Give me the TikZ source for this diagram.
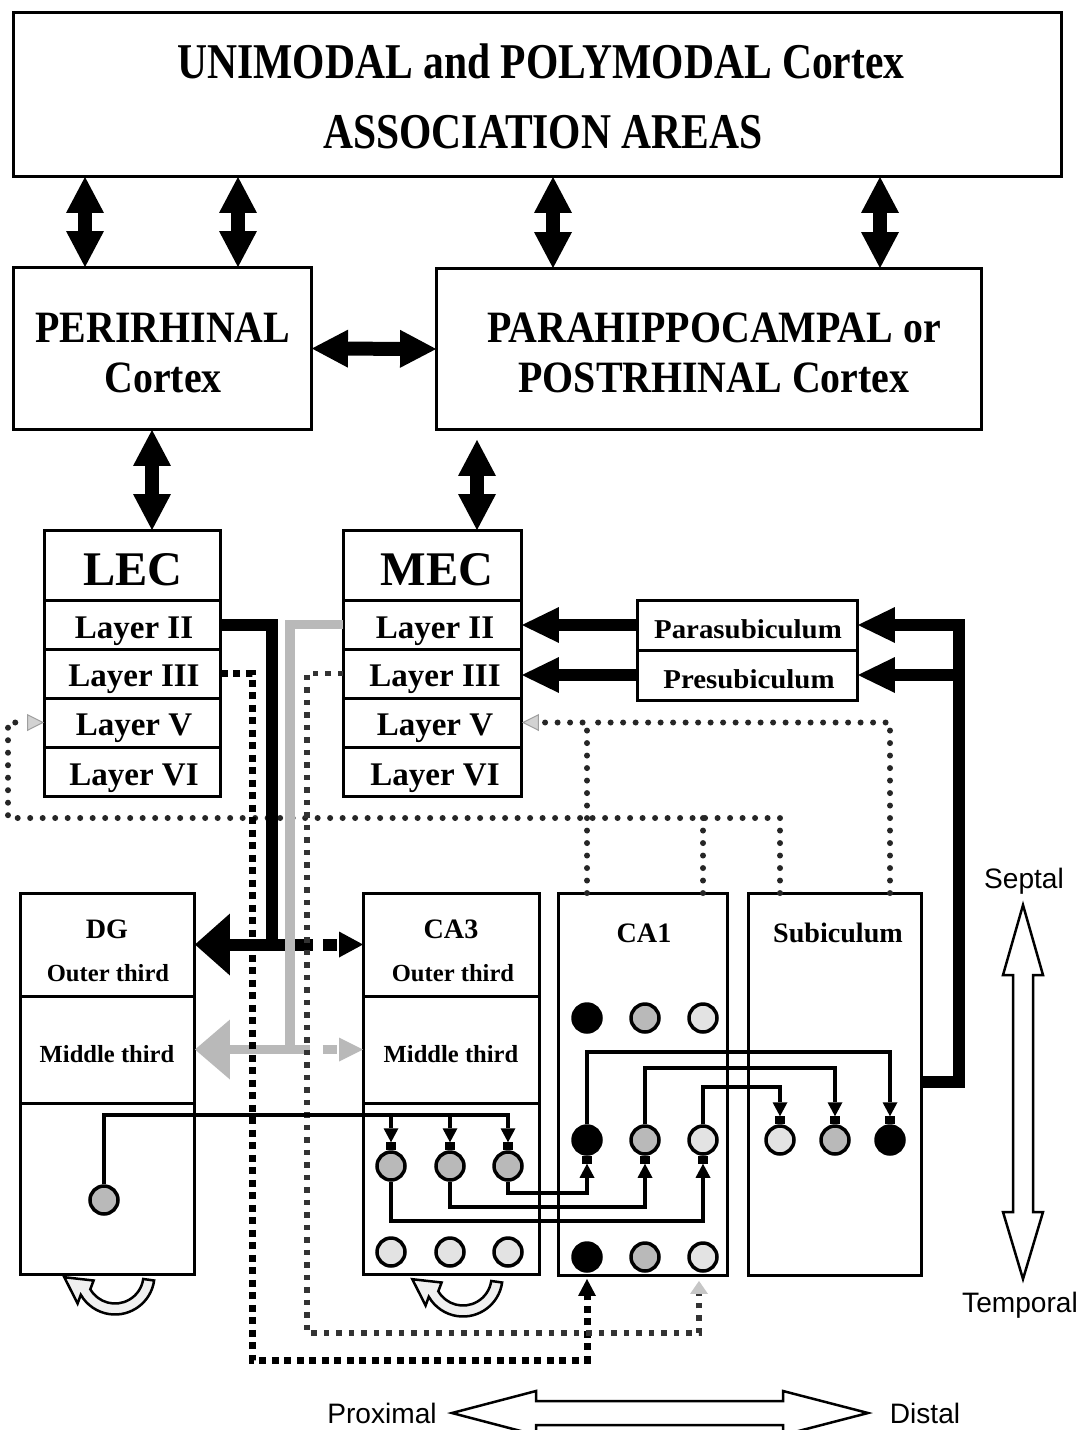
\documentclass[tikz,border=0pt]{standalone}
\usepackage{fontspec}
\setmainfont{Liberation Serif}
\newfontfamily\sansf{Liberation Sans}
\newfontfamily\titlef[FakeStretch=0.83]{Liberation Serif}
\newfontfamily\ctxf[FakeStretch=0.89]{Liberation Serif}
\newfontfamily\subf[FakeStretch=1.06]{Liberation Serif}
\usetikzlibrary{arrows.meta,calc}
\newcommand\fTitle{\titlef\bfseries\fontsize{28.5}{30}\selectfont}
\newcommand\fCtx{\ctxf\bfseries\fontsize{25.5}{28}\selectfont}
\newcommand\fEC{\bfseries\fontsize{27.5}{30}\selectfont}
\newcommand\fLayer{\bfseries\fontsize{18.8}{22}\selectfont}
\newcommand\fSubic{\subf\bfseries\fontsize{15.5}{18}\selectfont}
\newcommand\fHip{\bfseries\fontsize{16}{18}\selectfont}
\newcommand\fThird{\bfseries\fontsize{14}{16}\selectfont}
\newcommand\fSans{\sansf\fontsize{16}{18}\selectfont}
\begin{document}
\begin{tikzpicture}[x=0.02cm,y=-0.02cm,
  box/.style={draw, line width=0.06cm, inner sep=0pt, outer sep=0pt},
  txt/.style={anchor=base, inner sep=0pt},
  cell/.style={circle, draw, line width=0.07cm, minimum size=0.56cm, inner sep=0pt},
  dark/.style={cell, fill=black},
  mid/.style={cell, fill=gray!55},
  light/.style={cell, fill=gray!22},
  syn/.style={rectangle, fill=black, minimum width=0.2cm, minimum height=0.16cm, inner sep=0pt, outer sep=0pt},
  axon/.style={line width=0.09cm},
  axtip/.style={-{Triangle[length=0.28cm,width=0.3cm,line width=0pt]}},
  bidir/.style={line width=0.28cm, {Triangle[length=0.72cm,width=0.76cm,line width=0pt]}-{Triangle[length=0.72cm,width=0.76cm,line width=0pt]}},
  heavy/.style={line width=0.24cm},
  heavytip/.style={-{Triangle[length=0.74cm,width=0.72cm,line width=0pt]}},
  bigtip/.style={-{Triangle[length=0.7cm,width=1.24cm,line width=0pt]}},
  greyp/.style={line width=0.19cm, gray!55},
  dotr/.style={line width=0.12cm, dash pattern=on 0pt off 0.25cm, line cap=round, black!85},
  gtip/.style={-{Triangle[length=0.34cm,width=0.34cm,fill=gray!35,color=gray!75,line width=0.02cm]}},
  dashsq/.style={line width=0.14cm, dash pattern=on 0.14cm off 0.11cm},
  dotsq/.style={line width=0.11cm, dash pattern=on 0.11cm off 0.14cm, black!80},
  openarrow/.style={draw, line width=0.05cm, fill=white, line join=miter},
  recur/.style={draw, line width=0.05cm, fill=gray!12, line join=miter},
]
\fill[white] (0,0) rectangle (1081,1430);
\useasboundingbox (0,0) rectangle (1081,1430);

% ---------- boxes ----------
\node[box, minimum width=20.98cm, minimum height=3.3cm] (top) at (537.5,94.5) {};
\node[box, minimum width=5.98cm, minimum height=3.26cm] (peri) at (162.5,348.5) {};
\node[box, minimum width=10.92cm, minimum height=3.24cm] (para) at (709,349) {};

\node[box, minimum width=3.54cm, minimum height=1.4cm] (lec) at (132.5,565) {};
\node[box, minimum width=3.54cm, minimum height=0.98cm] (lec2) at (132.5,624.5) {};
\node[box, minimum width=3.54cm, minimum height=0.98cm] (lec3) at (132.5,673.5) {};
\node[box, minimum width=3.54cm, minimum height=0.98cm] (lec5) at (132.5,722.5) {};
\node[box, minimum width=3.54cm, minimum height=0.98cm] (lec6) at (132.5,771.5) {};

\node[box, minimum width=3.58cm, minimum height=1.4cm] (mec) at (432.5,565) {};
\node[box, minimum width=3.58cm, minimum height=0.98cm] (mec2) at (432.5,624.5) {};
\node[box, minimum width=3.58cm, minimum height=0.98cm] (mec3) at (432.5,673.5) {};
\node[box, minimum width=3.58cm, minimum height=0.98cm] (mec5) at (432.5,722.5) {};
\node[box, minimum width=3.58cm, minimum height=0.98cm] (mec6) at (432.5,771.5) {};

\node[box, minimum width=4.42cm, minimum height=1cm] (parasub) at (747.5,625) {};
\node[box, minimum width=4.42cm, minimum height=1cm] (presub) at (747.5,675) {};

\node[box, minimum width=3.5cm, minimum height=2.06cm] (dgo) at (107.5,944.5) {};
\node[box, minimum width=3.5cm, minimum height=2.14cm] (dgm) at (107.5,1049.5) {};
\node[box, minimum width=3.5cm, minimum height=3.44cm] (dgb) at (107.5,1189) {};

\node[box, minimum width=3.54cm, minimum height=2.06cm] (ca3o) at (451.5,944.5) {};
\node[box, minimum width=3.54cm, minimum height=2.14cm] (ca3m) at (451.5,1049.5) {};
\node[box, minimum width=3.54cm, minimum height=3.44cm] (ca3b) at (451.5,1189) {};

\node[box, minimum width=3.4cm, minimum height=7.66cm] (ca1) at (643,1084.5) {};
\node[box, minimum width=3.48cm, minimum height=7.66cm] (sub) at (835,1084.5) {};

% ---------- texts ----------
\node[txt, font=\fTitle] (topt1) at (541,78) {UNIMODAL and POLYMODAL Cortex};
\node[txt, font=\fTitle] (topt2) at (543,148) {ASSOCIATION AREAS};
\node[txt, font=\fCtx] (perit1) at (163,342) {PERIRHINAL};
\node[txt, font=\fCtx] (perit2) at (163,392) {Cortex};
\node[txt, font=\fCtx] (parat1) at (714,342) {PARAHIPPOCAMPAL or};
\node[txt, font=\fCtx] (parat2) at (714,392) {POSTRHINAL Cortex};
\node[txt, font=\fEC] (lect) at (133,585) {LEC};
\node[txt, font=\fEC] (mect) at (437,585) {MEC};
\node[txt, font=\fLayer] (lec2t) at (134,638) {Layer II};
\node[txt, font=\fLayer] (lec3t) at (134,686) {Layer III};
\node[txt, font=\fLayer] (lec5t) at (134,735) {Layer V};
\node[txt, font=\fLayer] (lec6t) at (134,785) {Layer VI};
\node[txt, font=\fLayer] (mec2t) at (435,638) {Layer II};
\node[txt, font=\fLayer] (mec3t) at (435,686) {Layer III};
\node[txt, font=\fLayer] (mec5t) at (435,735) {Layer V};
\node[txt, font=\fLayer] (mec6t) at (435,785) {Layer VI};
\node[txt, font=\fSubic] (parasubt) at (748,638) {Parasubiculum};
\node[txt, font=\fSubic] (presubt) at (749,688) {Presubiculum};
\node[txt, font=\fHip] (dgt) at (107,938) {DG};
\node[txt, font=\fThird] (dgot) at (108,981) {Outer third};
\node[txt, font=\fThird] (dgmt) at (107,1062) {Middle third};
\node[txt, font=\fHip] (ca3t) at (451,938) {CA3};
\node[txt, font=\fThird] (ca3ot) at (453,981) {Outer third};
\node[txt, font=\fThird] (ca3mt) at (451,1062) {Middle third};
\node[txt, font=\fHip] (ca1t) at (644,942) {CA1};
\node[txt, font=\fHip] (subt) at (838,942) {Subiculum};

% ---------- cells ----------
\node[dark]  (ca1a1) at (587,1018) {};
\node[mid]   (ca1a2) at (645,1018) {};
\node[light] (ca1a3) at (703,1018) {};
\node[dark]  (ca1b1) at (587,1140) {};
\node[mid]   (ca1b2) at (645,1140) {};
\node[light] (ca1b3) at (703,1140) {};
\node[dark]  (ca1c1) at (587,1257) {};
\node[mid]   (ca1c2) at (645,1257) {};
\node[light] (ca1c3) at (703,1257) {};
\node[mid]   (ca3u1) at (391,1166) {};
\node[mid]   (ca3u2) at (450,1166) {};
\node[mid]   (ca3u3) at (508,1166) {};
\node[light] (ca3d1) at (391,1252) {};
\node[light] (ca3d2) at (450,1252) {};
\node[light] (ca3d3) at (508,1252) {};
\node[mid]   (dgc) at (104,1200) {};
\node[light] (ss1) at (780,1140) {};
\node[mid]   (ss2) at (835,1140) {};
\node[dark]  (ss3) at (890,1140) {};

\node[syn, anchor=south] (su1) at (ca3u1.north) {};
\node[syn, anchor=south] (su2) at (ca3u2.north) {};
\node[syn, anchor=south] (su3) at (ca3u3.north) {};
\node[syn, anchor=north] (sb1) at (ca1b1.south) {};
\node[syn, anchor=north] (sb2) at (ca1b2.south) {};
\node[syn, anchor=north] (sb3) at (ca1b3.south) {};
\node[syn, anchor=south] (sq1) at (ss1.north) {};
\node[syn, anchor=south] (sq2) at (ss2.north) {};
\node[syn, anchor=south] (sq3) at (ss3.north) {};

% ---------- helper coordinates ----------
\coordinate (xa) at (85,0);  \coordinate (xb) at (238,0);
\coordinate (xc) at (553,0); \coordinate (xd) at (880,0);
\coordinate (xe) at (152,0); \coordinate (xf) at (477,0);
\coordinate (jx) at (272,0); \coordinate (gx) at (290,0);
\coordinate (lx) at (252,0); \coordinate (mx) at (307,0);
\coordinate (lx8) at (8,0);  \coordinate (ly) at (0,818);
\coordinate (by) at (0,1360); \coordinate (my) at (0,1333);
\coordinate (vx) at (959,0); \coordinate (sy) at (0,1082);
\coordinate (mfy) at (0,1115);
\coordinate (sy1) at (0,1193); \coordinate (sy2) at (0,1207); \coordinate (sy3) at (0,1221);
\coordinate (ay1) at (0,1052); \coordinate (ay2) at (0,1068); \coordinate (ay3) at (0,1087);
\coordinate (t1) at ($(ca1.south -| ca1c1)+(0,3)$);
\coordinate (t3) at ($(ca1.south -| ca1c3)+(-4,5)$);

% ---------- cortical double arrows ----------
\draw[bidir] (top.south -| xa) -- (peri.north -| xa);
\draw[bidir] (top.south -| xb) -- (peri.north -| xb);
\draw[bidir] (top.south -| xc) -- (para.north -| xc);
\draw[bidir] (top.south -| xd) -- (para.north -| xd);
\draw[bidir] (peri.east) -- (para.west);
\draw[bidir] (peri.south -| xe) -- (lec.north -| xe);
\draw[bidir] ($(para.south -| xf)+(0,10)$) -- (mec.north -| xf);

% ---------- layer V return pathways (dotted) ----------
\draw[dotr, gtip] (ca1.north -| ca1a1) |- (mec5.east);
\draw[dotr] (sub.north -| ss3) |- (ca1a1 |- mec5.east);
\draw[dotr, gtip] (sub.north -| ss1) |- (lx8 |- ly) |- (lec5.west);
\draw[dotr] (ca1.north -| ca1a3) -- (ca1a3 |- ly);

% ---------- perforant path: LEC layer II ----------
\draw[heavy, bigtip] (lec2.east) -| (jx |- dgo.east) -- (dgo.east);
\draw[heavy, dash pattern=on 0.82cm off 0.2cm on 0.28cm off 2cm, -{Triangle[length=0.48cm,width=0.52cm,line width=0pt]}] (jx |- dgo.east) -- (ca3o.west);

% ---------- perforant path: MEC layer II (grey) ----------
\draw[greyp, -{Triangle[length=0.7cm,width=1.2cm,line width=0pt]}] (mec2.west) -| (gx |- dgm.east) -- (dgm.east);
\draw[greyp, dash pattern=on 0.4cm off 0.26cm on 0.28cm off 2cm, -{Triangle[length=0.48cm,width=0.48cm,line width=0pt]}] (gx |- dgm.east) -- (ca3m.west);

% ---------- layer III to CA1 ----------
\draw[dashsq, -{Triangle[length=0.34cm,width=0.36cm,line width=0pt]}] (lec3.east) -| (lx |- by) -| (t1);
\draw[dotsq, -{Triangle[length=0.26cm,width=0.36cm,line width=0pt,fill=gray!45,color=gray!45]}] (mec3.west) -| (mx |- my) -| (t3);

% ---------- mossy fibres ----------
\draw[axon, axtip] (dgc.north) |- (mfy -| su3) -- (su3.north);
\draw[axon, axtip] (mfy -| su1) -- (su1.north);
\draw[axon, axtip] (mfy -| su2) -- (su2.north);

% ---------- Schaffer collaterals ----------
\draw[axon, axtip] (ca3u3.south) |- (sy1 -| sb1) -- (sb1.south);
\draw[axon, axtip] (ca3u2.south) |- (sy2 -| sb2) -- (sb2.south);
\draw[axon, axtip] (ca3u1.south) |- (sy3 -| sb3) -- (sb3.south);

% ---------- CA1 to subiculum ----------
\draw[axon, axtip] (ca1b1.north) |- (ay1 -| sq3) -- (sq3.north);
\draw[axon, axtip] (ca1b2.north) |- (ay2 -| sq2) -- (sq2.north);
\draw[axon, axtip] (ca1b3.north) |- (ay3 -| sq1) -- (sq1.north);

% ---------- subiculum output ----------
\draw[heavy, heavytip] (sub.east |- sy) -| (vx |- parasub.east) -- (parasub.east);
\draw[heavy, heavytip] (vx |- presub.east) -- (presub.east);
\draw[heavy, heavytip] (parasub.west) -- (mec2.east |- parasub.west);
\draw[heavy, heavytip] (presub.west) -- (mec3.east |- presub.west);

% ---------- recurrent arrows ----------
\foreach \cx/\cy in {115/1275, 463/1277}{
  \draw[recur] (\cx,\cy) ++(8:39.5) arc[start angle=8, end angle=150, radius=39.5]
    -- ($(\cx,\cy)+(-37.4,28.5)$) -- ($(\cx,\cy)+(-50.7,2.2)$) -- ($(\cx,\cy)+(-21.4,5.5)$)
    -- ($(\cx,\cy)+(150:28.5)$) arc[start angle=150, end angle=8, radius=28.5] -- cycle;
}

% ---------- axes ----------
\node[txt, font=\fSans] (septal) at (1024,888) {Septal};
\node[txt, font=\fSans] (temporal) at (1020,1312) {Temporal};
\node[txt, font=\fSans] (prox) at (382,1423) {Proximal};
\node[txt, font=\fSans] (dist) at (925,1423) {Distal};
\draw[openarrow] (1023,905) -- (1043,975) -- (1033,975) -- (1033,1212) -- (1043,1212) -- (1023,1279)
  -- (1003,1212) -- (1013,1212) -- (1013,975) -- (1003,975) -- cycle;
\draw[openarrow] (452,1413) -- (536,1391) -- (536,1401) -- (783,1401) -- (783,1391) -- (868,1413)
  -- (783,1435) -- (783,1425) -- (536,1425) -- (536,1435) -- cycle;
\end{tikzpicture}
\end{document}
